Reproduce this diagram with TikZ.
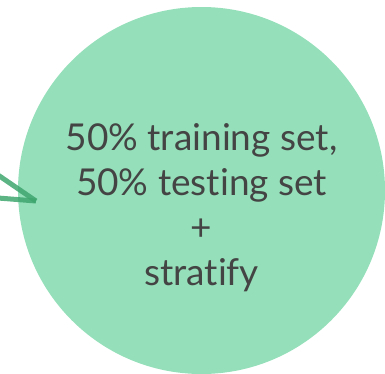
\documentclass[tikz,border=0pt]{standalone}
\usepackage{fontspec}
\setmainfont[Ligatures=NoCommon]{Lato}
\usepackage{tikz}
\usetikzlibrary{positioning, calc}

\definecolor{splitfill}{HTML}{95E0BA}
\definecolor{splittext}{HTML}{444444}
\definecolor{linkgreen}{HTML}{3FA66F}

\begin{document}
\begin{tikzpicture}[x=1pt, y=-1pt]
        \useasboundingbox (0,0) rectangle (385,373);
        \node[circle, fill=splitfill, minimum size=367pt, inner sep=0pt] (split) at (201.5,190.5) {};
        \node[text=splittext, align=center, font=\fontsize{37}{45}\selectfont, yshift=-17pt] (splitlabel) at (split) {50\% training set,\\50\% testing set\\+\\stratify};

        % incoming links from the left
        \coordinate (from1) at (-2,175);
        \coordinate (from2) at (-2,198);
        \coordinate (tip) at (36,201);
        \draw[linkgreen, line width=5pt, opacity=0.85] (from1) -- (tip);
        \draw[linkgreen, line width=5pt, opacity=0.85] (from2) -- (tip);
    \end{tikzpicture}
\end{document}
